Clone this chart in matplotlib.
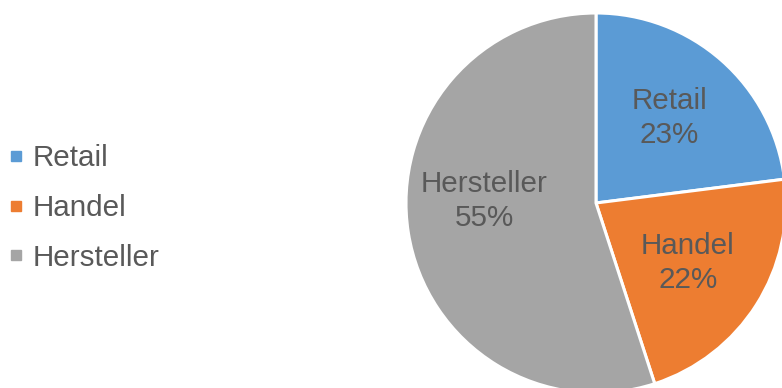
import numpy as np
import matplotlib
matplotlib.use("Agg")
import matplotlib.pyplot as plt
from matplotlib.lines import Line2D

plt.rcParams['font.family'] = ['Liberation Sans', 'DejaVu Sans']

categories = ["Retail", "Handel", "Hersteller"]
shares = [23, 22, 55]
colors = ["#5B9BD5", "#ED7D31", "#A5A5A5"]
text_color = "#595959"

W, H = 782, 388
fig = plt.figure(figsize=(W / 100, H / 100), dpi=100)
ax = fig.add_axes([0, 0, 1, 1])

cx, cy, r = 596, H - 203, 190
wedges, _ = ax.pie(shares, colors=colors, startangle=90, counterclock=False,
                   center=(cx, cy), radius=r,
                   wedgeprops=dict(edgecolor="white", linewidth=2.2))
ax.set_xlim(0, W)
ax.set_ylim(0, H)
ax.set_aspect("equal")
ax.axis("off")

# in-slice labels: name and percentage, placed along each wedge's mid angle
label_radius = [0.60, 0.57, 0.59]
angle_shift = [1.5, 0.5, -11.5]
for w, name, val, lr, da in zip(wedges, categories, shares, label_radius, angle_shift):
    mid = np.deg2rad((w.theta1 + w.theta2) / 2 + da)
    x = cx + lr * r * np.cos(mid)
    y = cy + lr * r * np.sin(mid) - 2.5
    ax.text(x, y, f"{name}\n{val}%", ha="center", va="center",
            fontsize=21.3, color=text_color, linespacing=1.28)

handles = [Line2D([], [], marker="s", linestyle="none", markersize=7.2,
                  markerfacecolor=c, markeredgecolor=c) for c in colors]
fig.legend(handles, categories, loc="center left",
           bbox_to_anchor=(7 / W, 1 - 208 / H), frameon=False,
           fontsize=21.3, labelcolor=text_color, handlelength=0.6,
           handletextpad=0.26, labelspacing=0.73, borderpad=0.0,
           borderaxespad=0.0)

fig.savefig("out.png", dpi=100)
